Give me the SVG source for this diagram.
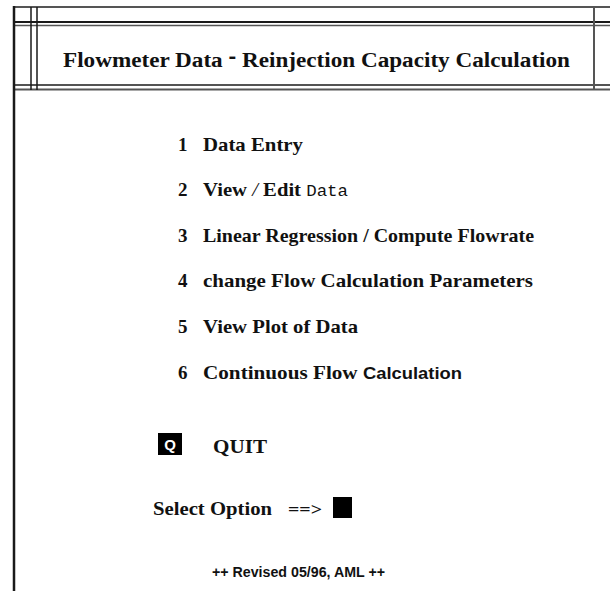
<svg xmlns="http://www.w3.org/2000/svg" width="610" height="591" viewBox="0 0 610 591">
  <style>
    .rule { stroke: #1a1a1a; fill: none; }
    .soft { stroke: #555; fill: none; }
    .serif { font-family: "Liberation Serif", "Times New Roman", serif; font-weight: bold; fill: #111; }
    .sans { font-family: "Liberation Sans", Arial, sans-serif; font-weight: bold; fill: #111; }
    .mono { font-family: "Liberation Mono", "Courier New", monospace; font-weight: normal; fill: #111; }
    .item { font-size: 19px; }
  </style>
  <rect width="610" height="591" fill="#fff"/>

  <!-- frame lines -->
  <g id="frame">
    <line class="soft" x1="13" y1="7" x2="610" y2="7" stroke-width="2"/>
    <line class="rule" x1="13" y1="22" x2="610" y2="22" stroke-width="2"/>
    <line class="soft" x1="13" y1="25.5" x2="610" y2="25.5" stroke-width="1.5"/>
    <line class="rule" x1="13" y1="85" x2="610" y2="85" stroke-width="1.5"/>
    <line class="soft" x1="13" y1="89.5" x2="610" y2="89.5" stroke-width="2"/>
    <line class="rule" x1="14" y1="6" x2="14" y2="591" stroke-width="2.5"/>
    <line class="rule" x1="31" y1="7" x2="31" y2="90" stroke-width="1.5"/>
    <line class="rule" x1="37" y1="7" x2="37" y2="90" stroke-width="1.5"/>
    <line class="soft" x1="594" y1="7" x2="594" y2="90" stroke-width="2"/>
  </g>

  <g id="title">
    <text class="serif" x="63" y="67" font-size="20.5" textLength="507" lengthAdjust="spacingAndGlyphs">Flowmeter Data <tspan font-family="Liberation Sans, sans-serif" dy="-4">-</tspan><tspan dy="4"> Reinjection Capacity Calculation</tspan></text>
  </g>

  <g id="menu">
    <g id="opt1">
      <text class="serif item" x="178" y="151">1</text>
      <text class="serif item" x="203" y="151" textLength="100" lengthAdjust="spacingAndGlyphs">Data Entry</text>
    </g>
    <g id="opt2">
      <text class="serif item" x="178" y="196">2</text>
      <text class="serif item" x="203" y="196" textLength="145" lengthAdjust="spacingAndGlyphs">View <tspan font-weight="normal" font-style="italic">/</tspan> Edit <tspan class="mono" font-size="16">Data</tspan></text>
    </g>
    <g id="opt3">
      <text class="serif item" x="178" y="242">3</text>
      <text class="serif item" x="203" y="242" textLength="331" lengthAdjust="spacingAndGlyphs">Linear Regression / Compute Flowrate</text>
    </g>
    <g id="opt4">
      <text class="serif item" x="178" y="287">4</text>
      <text class="serif item" x="203" y="287" textLength="330" lengthAdjust="spacingAndGlyphs">change Flow Calculation Parameters</text>
    </g>
    <g id="opt5">
      <text class="serif item" x="178" y="333">5</text>
      <text class="serif item" x="203" y="333" textLength="155" lengthAdjust="spacingAndGlyphs">View Plot of Data</text>
    </g>
    <g id="opt6">
      <text class="serif item" x="178" y="379">6</text>
      <text class="serif item" x="203" y="379" textLength="259" lengthAdjust="spacingAndGlyphs">Continuous Flow <tspan class="sans" font-size="16.5">Calculation</tspan></text>
    </g>
    <g id="quit">
      <rect x="158" y="433" width="24" height="22" fill="#000"/>
      <text class="sans" x="170" y="450" font-size="15" text-anchor="middle" style="fill:#fff">Q</text>
      <text class="serif item" x="213" y="453" textLength="54" lengthAdjust="spacingAndGlyphs">QUIT</text>
    </g>
  </g>

  <g id="prompt">
    <text class="serif" x="153" y="515" font-size="18" textLength="119" lengthAdjust="spacingAndGlyphs">Select Option</text>
    <text class="serif" x="288" y="515" font-size="17" textLength="34" lengthAdjust="spacingAndGlyphs">==&gt;</text>
    <rect x="333" y="497" width="19" height="21" fill="#000"/>
  </g>

  <g id="footer">
    <text class="sans" x="212" y="577" font-size="14" textLength="173" lengthAdjust="spacingAndGlyphs">++ Revised 05/96, AML ++</text>
  </g>
</svg>
